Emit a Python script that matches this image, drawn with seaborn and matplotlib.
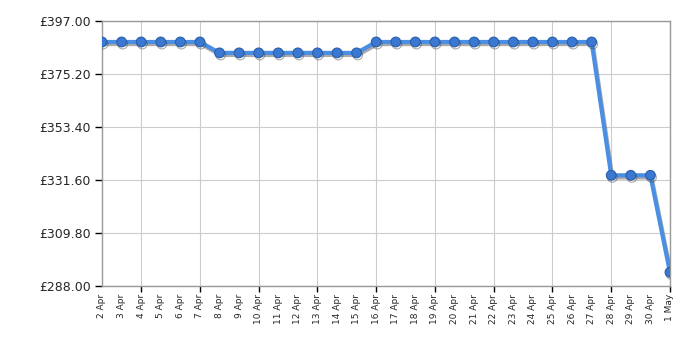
import matplotlib
matplotlib.use("Agg")
import matplotlib.pyplot as plt
import matplotlib.patheffects as pe
import matplotlib.transforms as mtransforms
import seaborn as sns
import pandas as pd
import numpy as np

dates = ["2 Apr", "3 Apr", "4 Apr", "5 Apr", "6 Apr", "7 Apr", "8 Apr", "9 Apr", "10 Apr",
         "11 Apr", "12 Apr", "13 Apr", "14 Apr", "15 Apr", "16 Apr", "17 Apr", "18 Apr",
         "19 Apr", "20 Apr", "21 Apr", "22 Apr", "23 Apr", "24 Apr", "25 Apr", "26 Apr",
         "27 Apr", "28 Apr", "29 Apr", "30 Apr", "1 May"]
prices = [388.49, 388.49, 388.49, 388.49, 388.49, 388.49,
          383.99, 383.99, 383.99, 383.99, 383.99, 383.99, 383.99, 383.99,
          388.49, 388.49, 388.49, 388.49, 388.49, 388.49, 388.49, 388.49, 388.49,
          388.49, 388.49, 388.49,
          333.49, 333.49, 333.49,
          293.49]
y_ticks = [288.00, 309.80, 331.60, 353.40, 375.20, 397.00]
grid_days = ["4 Apr", "7 Apr", "10 Apr", "13 Apr", "16 Apr", "19 Apr", "22 Apr",
             "25 Apr", "28 Apr", "1 May"]

df = pd.DataFrame({"pos": np.arange(len(dates)), "price": prices})

sns.set_style("white", {"xtick.bottom": True, "ytick.left": True})
plt.rcParams["font.family"] = ["DejaVu Sans"]

fig = plt.figure(figsize=(7, 3.5), dpi=100)
ax = fig.add_axes([0.1457, 0.184, 0.8114, 0.755])

sns.lineplot(data=df, x="pos", y="price", ax=ax, color="#4a8fe3", linewidth=3,
             marker="o", markersize=7, markerfacecolor="#3a78d2",
             markeredgecolor="#2a5ea8", markeredgewidth=0.8, zorder=3,
             path_effects=[pe.SimpleLineShadow(offset=(0.8, -1.5), shadow_color="#444444", alpha=0.45), pe.Normal()])

ax.set_xlim(0, len(dates) - 1)
ax.set_ylim(y_ticks[0], y_ticks[-1])

ax.set_yticks(y_ticks)
ax.set_yticklabels([f"£{v:.2f}" for v in y_ticks], fontsize=9)
ax.tick_params(axis="y", length=5, width=1, color="black", direction="out", pad=3)

grid_pos = [dates.index(d) for d in grid_days]
ax.set_xticks(grid_pos)
ax.set_xticklabels([""] * len(grid_pos))
ax.tick_params(axis="x", which="major", bottom=True, length=4, width=1, color="black", direction="out")
ax.grid(visible=True, which="major", axis="x", color="#cccccc", linewidth=0.8)
ax.grid(visible=True, which="major", axis="y", color="#cccccc", linewidth=0.8)
ax.set_axisbelow(True)

trans = mtransforms.blended_transform_factory(ax.transData, ax.transAxes)
offset = mtransforms.ScaledTranslation(0, -6 / 72, fig.dpi_scale_trans)
for i, d in enumerate(dates):
    ax.text(i, 0, d, transform=trans + offset, rotation="vertical", fontsize=6.5,
            ha="center", va="top")

for s in ax.spines.values():
    s.set_color("#999999")
    s.set_linewidth(1)
    s.set_visible(True)

ax.set_xlabel("")
ax.set_ylabel("")
fig.savefig("out.png", dpi=100)
